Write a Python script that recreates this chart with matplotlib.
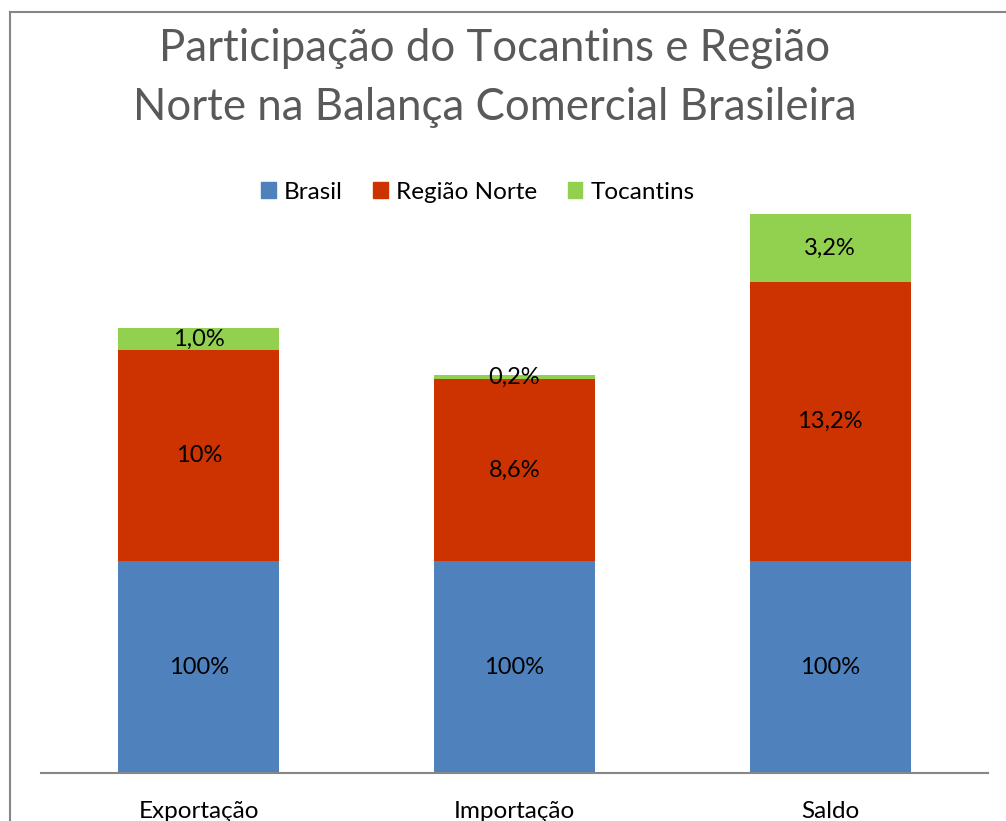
import numpy as np
import matplotlib.pyplot as plt
from matplotlib.lines import Line2D
from matplotlib.patches import Patch

categorias = ['Exportação', 'Importação', 'Saldo']
series = ['Brasil', 'Região Norte', 'Tocantins']
cores = ['#4F81BD', '#CC3300', '#92D050']

# Brasil aparece em escala 1:10 no gráfico original (100% tem a altura de 10%)
brasil = [100, 100, 100]
norte = [10.0, 8.6, 13.2]
tocantins = [1.0, 0.2, 3.2]

rotulos_brasil = ['100%', '100%', '100%']
rotulos_norte = ['10%', '8,6%', '13,2%']
rotulos_tocantins = ['1,0%', '0,2%', '3,2%']

plt.rcParams['font.family'] = ['Lato', 'DejaVu Sans']

W, H = 1006, 821
fig = plt.figure(figsize=(W / 100, H / 100), dpi=100)
ax = fig.add_axes([41 / W, 48 / H, 947 / W, (773 - 138) / H])

x = np.arange(len(categorias))
b = np.array(brasil) / 10
n = np.array(norte)
t = np.array(tocantins)
largura = 0.51

bars_b = ax.bar(x, b, largura, color=cores[0], label=series[0])
bars_n = ax.bar(x, n, largura, bottom=b, color=cores[1], label=series[1])
bars_t = ax.bar(x, t, largura, bottom=b + n, color=cores[2], label=series[2])

for bars, rots in [(bars_b, rotulos_brasil), (bars_n, rotulos_norte), (bars_t, rotulos_tocantins)]:
    for rect, r in zip(bars, rots):
        cy = rect.get_y() + rect.get_height() / 2
        ax.text(rect.get_x() + rect.get_width() / 2, cy, r, ha='center', va='center',
                fontsize=17, color='black')

ax.set_xlim(-0.5, 2.5)
ax.set_ylim(0, 30)
for s in ['top', 'right', 'left']:
    ax.spines[s].set_visible(False)
ax.spines['bottom'].set_color('#868686')
ax.spines['bottom'].set_linewidth(1.5)
ax.set_yticks([])
ax.set_xticks(x)
ax.set_xticklabels(categorias, fontsize=17.5)
ax.tick_params(axis='x', length=0, pad=20)

handles = [Patch(color=c) for c in cores]
fig.legend(handles, series, loc='center', bbox_to_anchor=(478 / W, 1 - 192 / H),
           ncol=3, frameon=False, fontsize=17.5, handlelength=0.6, handleheight=0.6,
           handletextpad=0.35, columnspacing=1.25)

fig.text(495 / W, 1 - 78 / H, 'Participação do Tocantins e Região\nNorte na Balança Comercial Brasileira',
         ha='center', va='center', fontsize=31.5, color='#595959', linespacing=1.55)

# moldura do gráfico (só a borda esquerda e a de cima aparecem no recorte)
fig.add_artist(Line2D([9.5 / W, 9.5 / W], [0, 1 - 12.5 / H], color='#868686', lw=1.5))
fig.add_artist(Line2D([9.5 / W, 1], [1 - 12.5 / H, 1 - 12.5 / H], color='#868686', lw=1.5))

fig.savefig('out.png', dpi=100)
